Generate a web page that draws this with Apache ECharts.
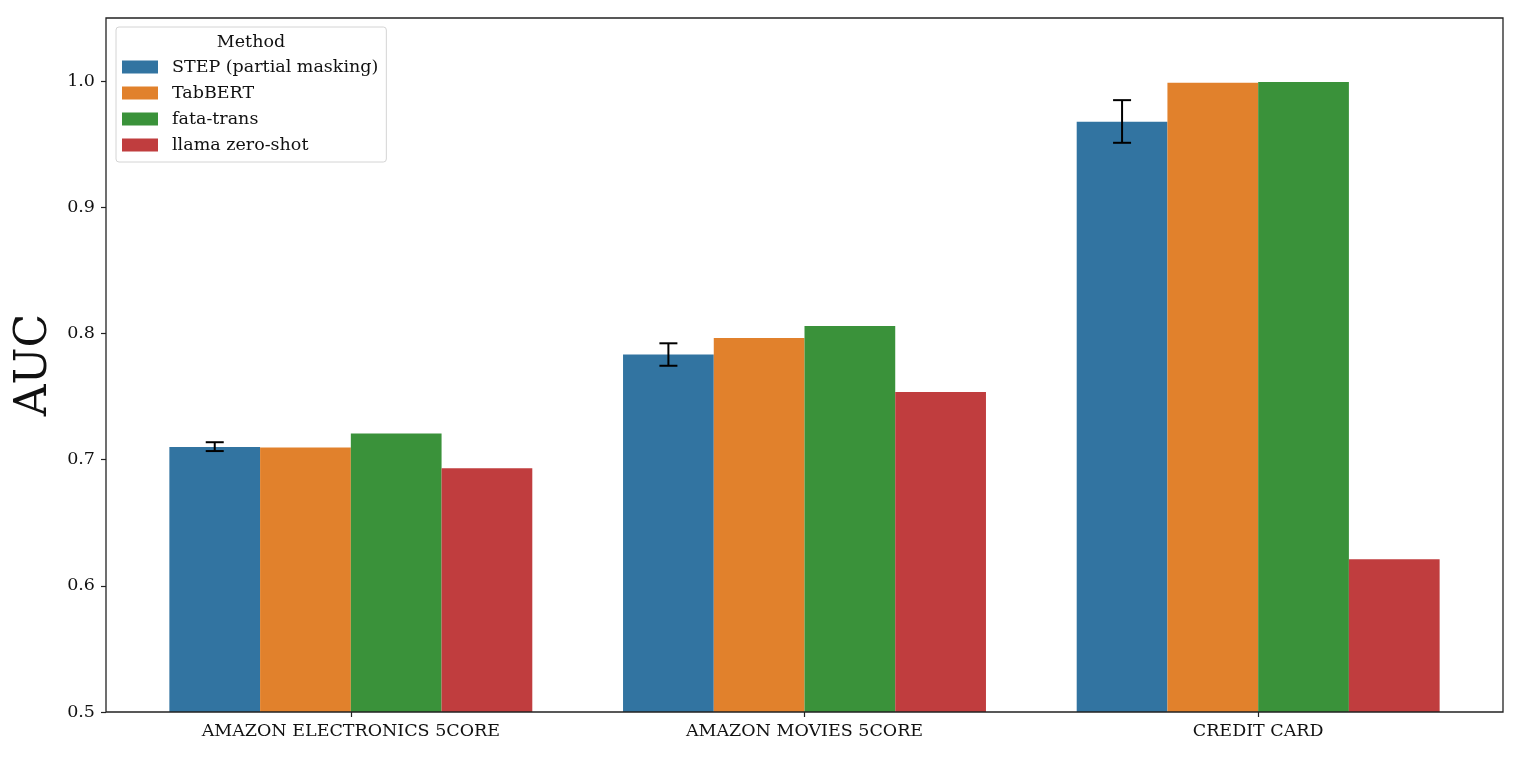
<!DOCTYPE html>
<html>
<head>
<meta charset="utf-8">
<script src="https://cdn.jsdelivr.net/npm/echarts@6/dist/echarts.min.js"></script>
<style>
html,body{margin:0;padding:0;background:#fff;}
#chart{width:1522px;height:761px;}
</style>
</head>
<body>
<div id="chart"></div>
<script>
const categories = ['AMAZON ELECTRONICS 5CORE', 'AMAZON MOVIES 5CORE', 'CREDIT CARD'];
const seriesNames = ['STEP (partial masking)', 'TabBERT', 'fata-trans', 'llama zero-shot'];
const stepValues = [0.710, 0.7834, 0.9677];
const stepLow = [0.7068, 0.7744, 0.9511];
const stepHigh = [0.7138, 0.7922, 0.9849];
const tabbertValues = [0.7097, 0.7964, 0.9987];
const fataValues = [0.7208, 0.8059, 0.9992];
const llamaValues = [0.6931, 0.7536, 0.621];
const yTicks = [0.5, 0.6, 0.7, 0.8, 0.9, 1.0];
const colors = ['#3274a1', '#e1812c', '#3a923a', '#c03d3e'];

const FONT = '"DejaVu Serif", serif';
const FS = 17.5;
const chart = echarts.init(document.getElementById('chart'), null, {renderer: 'canvas'});

const barValues = [stepValues, tabbertValues, fataValues, llamaValues];
const barSeries = seriesNames.map((name, i) => ({
  name: name,
  type: 'bar',
  data: barValues[i],
  barGap: '0%',
  barCategoryGap: '20%',
  itemStyle: {color: colors[i]},
  z: 2
}));

const errData = categories.map((c, i) => [i, stepLow[i], stepHigh[i]]);

const option = {
  animation: false,
  backgroundColor: '#ffffff',
  color: colors,
  grid: {left: 124, right: 37, top: 18, bottom: 49, containLabel: false},
  legend: {
    orient: 'vertical',
    left: 116,
    top: 27,
    data: seriesNames,
    icon: 'rect',
    itemWidth: 36,
    itemHeight: 13,
    itemGap: 6,
    padding: [30, 8, 7, 6],
    backgroundColor: '#ffffff',
    borderColor: '#d4d4d4',
    borderWidth: 1,
    borderRadius: 3,
    textStyle: {fontFamily: FONT, fontSize: FS, color: '#111', lineHeight: 20, padding: [0, 0, 0, 9]},
    selectedMode: false
  },
  xAxis: {
    type: 'category',
    data: categories,
    axisLine: {show: false},
    axisTick: {show: true, alignWithLabel: true, length: 5, lineStyle: {color: '#222', width: 1.2}},
    axisLabel: {fontFamily: FONT, fontSize: FS, color: '#111', margin: 10},
    splitLine: {show: false}
  },
  yAxis: {
    type: 'value',
    min: 0.5,
    max: 1.05,
    offset: 18,
    axisLine: {show: false},
    axisTick: {show: true, length: 5, customValues: yTicks, lineStyle: {color: '#222', width: 1.2}},
    axisLabel: {fontFamily: FONT, fontSize: FS, color: '#111', margin: 11, customValues: yTicks,
      formatter: v => v.toFixed(1)},
    splitLine: {show: false},
    name: 'AUC',
    nameLocation: 'middle',
    nameGap: 42,
    nameRotate: 90,
    nameTextStyle: {fontFamily: FONT, fontSize: 44, color: '#111'}
  },
  graphic: [
    {
      type: 'rect',
      shape: {x: 106, y: 18, width: 1397, height: 694},
      style: {fill: 'none', stroke: '#222', lineWidth: 1.3},
      z: 100,
      silent: true
    },
    {
      type: 'text',
      x: 251, y: 42,
      style: {text: 'Method', fontFamily: FONT, fontSize: FS, fill: '#111', align: 'center', verticalAlign: 'middle'},
      z: 110
    }
  ],
  series: barSeries.concat([{
    type: 'custom',
    name: 'err',
    data: errData,
    encode: {x: 0, y: [1, 2]},
    z: 10,
    silent: true,
    renderItem: function (params, api) {
      const idx = api.value(0);
      const lo = api.coord([idx, api.value(1)]);
      const hi = api.coord([idx, api.value(2)]);
      const band = api.size([1, 0])[0];
      const x = lo[0] - 0.3 * band;
      const cap = 9;
      const st = {stroke: '#000', lineWidth: 2};
      return {
        type: 'group',
        children: [
          {type: 'line', shape: {x1: x, y1: lo[1], x2: x, y2: hi[1]}, style: st},
          {type: 'line', shape: {x1: x - cap, y1: lo[1], x2: x + cap, y2: lo[1]}, style: st},
          {type: 'line', shape: {x1: x - cap, y1: hi[1], x2: x + cap, y2: hi[1]}, style: st}
        ]
      };
    }
  }])
};
chart.setOption(option);
</script>
</body>
</html>
